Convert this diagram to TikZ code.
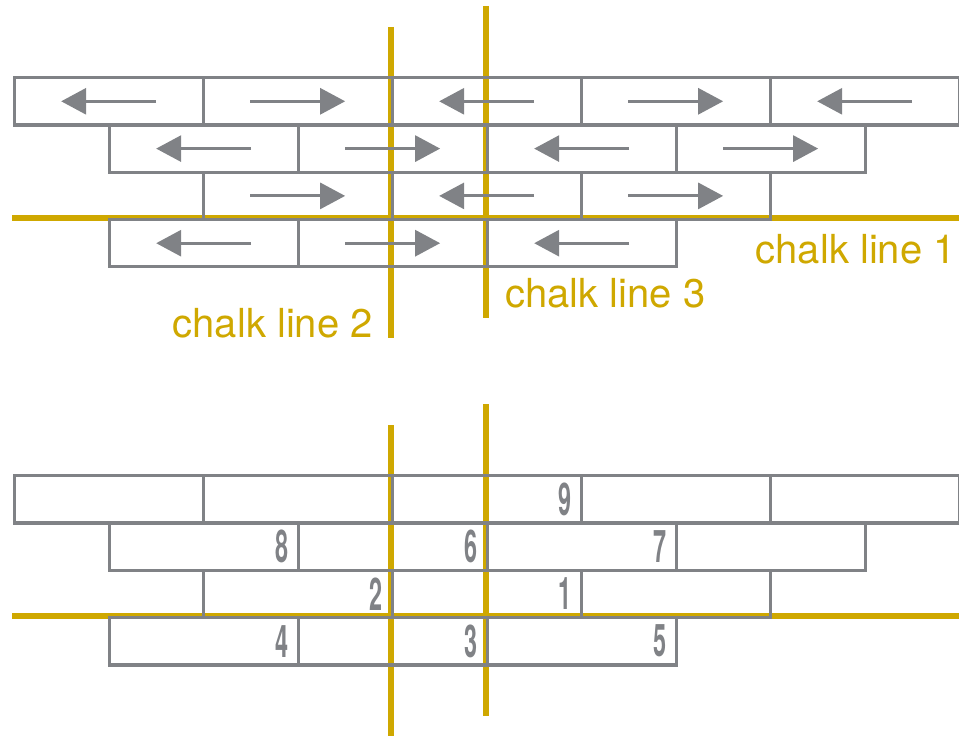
\documentclass[tikz,border=0pt]{standalone}
\usepackage{fontspec}
\setmainfont{TeX Gyre Heros}
\usepackage{graphicx}
\usepackage{tikz}
\usetikzlibrary{arrows.meta, positioning, calc}
\definecolor{chalkgold}{RGB}{207, 168, 0}
\definecolor{brickgray}{RGB}{128, 130, 134}

\begin{document}
\begin{tikzpicture}[x=1pt, y=-1pt,
  brick/.style={draw=brickgray, line width=3.3pt, rectangle, minimum width=189pt, minimum height=47.3pt, inner sep=0pt, anchor=north west},
  chalk/.style={draw=chalkgold, line width=6.5pt},
  chalklabel/.style={text=chalkgold, font=\fontsize{40}{40}\selectfont, inner sep=0pt},
  dirarrow/.style={draw=brickgray, line width=3pt, -{Triangle[length=25pt, width=26pt]}},
  num/.style={text=brickgray, font=\bfseries\fontsize{45}{45}\selectfont, inner sep=0pt, anchor=east}]
  \useasboundingbox (0,0) rectangle (959,738);

  % Chalk lines, top
  \draw[chalk] (12,218) -- (959,218);
  \draw[chalk] (391,27) -- (391,338);
  \draw[chalk] (486,6) -- (486,318);

  % Chalk lines, bottom
  \draw[chalk] (12,616) -- (959,616);
  \draw[chalk] (391,425) -- (391,736);
  \draw[chalk] (486,404) -- (486,716);

  % Bricks, top
  \node[brick] (t11) at (12.5,76) {};
  \node[brick] (t12) at (201.5,76) {};
  \node[brick] (t13) at (390.5,76) {};
  \node[brick] (t14) at (579.5,76) {};
  \node[brick] (t15) at (768.5,76) {};
  \node[brick] (t21) at (107.5,123.3) {};
  \node[brick] (t22) at (296.5,123.3) {};
  \node[brick] (t23) at (485.5,123.3) {};
  \node[brick] (t24) at (674.5,123.3) {};
  \node[brick] (t31) at (201.5,170.6) {};
  \node[brick] (t32) at (390.5,170.6) {};
  \node[brick] (t33) at (579.5,170.6) {};
  \node[brick] (t41) at (107.5,217.9) {};
  \node[brick] (t42) at (296.5,217.9) {};
  \node[brick] (t43) at (485.5,217.9) {};

  % Laying directions
  \draw[dirarrow] ([xshift=47.5pt]t11.center) -- ([xshift=-47.5pt]t11.center);
  \draw[dirarrow] ([xshift=-47.5pt]t12.center) -- ([xshift=47.5pt]t12.center);
  \draw[dirarrow] ([xshift=47.5pt]t13.center) -- ([xshift=-47.5pt]t13.center);
  \draw[dirarrow] ([xshift=-47.5pt]t14.center) -- ([xshift=47.5pt]t14.center);
  \draw[dirarrow] ([xshift=47.5pt]t15.center) -- ([xshift=-47.5pt]t15.center);
  \draw[dirarrow] ([xshift=47.5pt]t21.center) -- ([xshift=-47.5pt]t21.center);
  \draw[dirarrow] ([xshift=-47.5pt]t22.center) -- ([xshift=47.5pt]t22.center);
  \draw[dirarrow] ([xshift=47.5pt]t23.center) -- ([xshift=-47.5pt]t23.center);
  \draw[dirarrow] ([xshift=-47.5pt]t24.center) -- ([xshift=47.5pt]t24.center);
  \draw[dirarrow] ([xshift=-47.5pt]t31.center) -- ([xshift=47.5pt]t31.center);
  \draw[dirarrow] ([xshift=47.5pt]t32.center) -- ([xshift=-47.5pt]t32.center);
  \draw[dirarrow] ([xshift=-47.5pt]t33.center) -- ([xshift=47.5pt]t33.center);
  \draw[dirarrow] ([xshift=47.5pt]t41.center) -- ([xshift=-47.5pt]t41.center);
  \draw[dirarrow] ([xshift=-47.5pt]t42.center) -- ([xshift=47.5pt]t42.center);
  \draw[dirarrow] ([xshift=47.5pt]t43.center) -- ([xshift=-47.5pt]t43.center);

  % Labels
  \node[chalklabel, anchor=base east] (lab1) at (956,264) {chalk line 1};
  \node[chalklabel, anchor=base east] (lab2) at (373,337) {chalk line 2};
  \node[chalklabel, anchor=base west] (lab3) at (505,307) {chalk line 3};

  % Bricks, bottom
  \node[brick] (b11) at (12.5,474) {};
  \node[brick] (b12) at (201.5,474) {};
  \node[brick] (b13) at (390.5,474) {};
  \node[brick] (b14) at (579.5,474) {};
  \node[brick] (b15) at (768.5,474) {};
  \node[brick] (b21) at (107.5,521.3) {};
  \node[brick] (b22) at (296.5,521.3) {};
  \node[brick] (b23) at (485.5,521.3) {};
  \node[brick] (b24) at (674.5,521.3) {};
  \node[brick] (b31) at (201.5,568.6) {};
  \node[brick] (b32) at (390.5,568.6) {};
  \node[brick] (b33) at (579.5,568.6) {};
  \node[brick] (b41) at (107.5,615.9) {};
  \node[brick] (b42) at (296.5,615.9) {};
  \node[brick] (b43) at (485.5,615.9) {};

  % Laying order
  \node[num] (n1) at ([xshift=-11pt]b32.east) {\scalebox{0.52}[1]{1}};
  \node[num] (n2) at ([xshift=-11pt]b31.east) {\scalebox{0.52}[1]{2}};
  \node[num] (n3) at ([xshift=-11pt]b42.east) {\scalebox{0.52}[1]{3}};
  \node[num] (n4) at ([xshift=-11pt]b41.east) {\scalebox{0.52}[1]{4}};
  \node[num] (n5) at ([xshift=-11pt]b43.east) {\scalebox{0.52}[1]{5}};
  \node[num] (n6) at ([xshift=-11pt]b22.east) {\scalebox{0.52}[1]{6}};
  \node[num] (n7) at ([xshift=-11pt]b23.east) {\scalebox{0.52}[1]{7}};
  \node[num] (n8) at ([xshift=-11pt]b21.east) {\scalebox{0.52}[1]{8}};
  \node[num] (n9) at ([xshift=-11pt]b13.east) {\scalebox{0.52}[1]{9}};
\end{tikzpicture}
\end{document}
